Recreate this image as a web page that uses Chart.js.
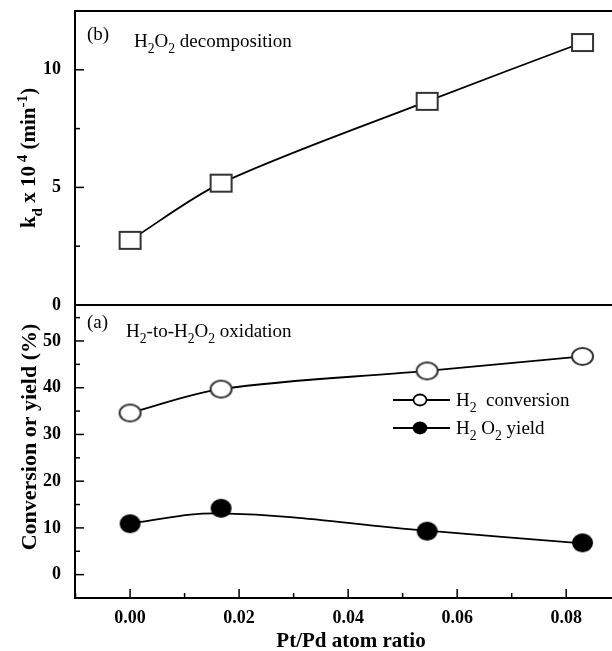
<!DOCTYPE html>
<html lang="en">
<head>
<meta charset="UTF-8" />
<title>Pt/Pd atom ratio</title>
<script src="https://cdn.jsdelivr.net/npm/chart.js"></script>
<style>
  body { margin: 0; background: #fff; }
  #wrap { position: relative; width: 612px; height: 651px; }
  canvas { position: absolute; left: 0; }
  #topChart { top: 0; }
  #bottomChart { top: 305px; }
</style>
</head>
<body>
<div id="wrap">
  <canvas id="topChart" width="612" height="320"></canvas>
  <canvas id="bottomChart" width="612" height="346"></canvas>
</div>
<script>
// values
const ratio = [0, 0.0167, 0.0545, 0.083];
const kd = [2.75, 5.18, 8.66, 11.16];
const h2Conversion = [34.6, 39.7, 43.6, 46.7];
const h2o2Yield = [10.9, 14.2, 9.3, 6.8];
const yieldCurve = [11.0, 13.1, 9.4, 6.7];   // the smoothed line under the yield points

// tick labels
const xTicks = [0, 0.02, 0.04, 0.06, 0.08];
const yTicksTop = [0, 5, 10];
const yTicksBottom = [0, 10, 20, 30, 40, 50];

const FONT = '"Liberation Serif", "Times New Roman", serif';
const pts = ys => ratio.map((x, i) => ({ x: x, y: ys[i] }));
const near = (a, b) => Math.abs(a - b) < 1e-9;

// major ticks plus one minor tick between each pair (and one beyond each end)
function withMinor(major, lo, hi) {
  const step = (major[1] - major[0]) / 2;
  const out = [];
  for (let v = major[0] - step; v <= major[major.length - 1] + step + 1e-9; v += step) {
    if (v >= lo - 1e-9 && v <= hi + 1e-9) out.push({ value: +v.toFixed(6) });
  }
  return out;
}

// open/filled markers drawn on small canvases (they are a bit wider than tall in the figure)
function marker(w, h, shape, fill) {
  const c = document.createElement('canvas');
  c.width = w + 4;
  c.height = h + 4;
  const g = c.getContext('2d');
  g.lineWidth = 2;
  g.strokeStyle = fill === '#000' ? '#000' : '#333';
  g.fillStyle = fill;
  g.beginPath();
  if (shape === 'rect') g.rect(2, 2, w, h);
  else g.ellipse(c.width / 2, c.height / 2, w / 2, h / 2, 0, 0, Math.PI * 2);
  g.fill();
  g.stroke();
  return c;
}

// text with sub/superscripts: parts = [[text, mode]], mode -1 sub, 1 sup
function richWidth(ctx, parts, size, weight) {
  let w = 0;
  parts.forEach(([t, m]) => {
    ctx.font = `${weight} ${m ? size * 0.72 : size}px ${FONT}`;
    w += ctx.measureText(t).width;
  });
  return w;
}
function richText(ctx, parts, x, y, size, weight) {
  let cx = x;
  ctx.textBaseline = 'alphabetic';
  ctx.textAlign = 'left';
  parts.forEach(([t, m]) => {
    ctx.font = `${weight} ${m ? size * 0.72 : size}px ${FONT}`;
    const dy = m === -1 ? size * 0.3 : m === 1 ? -size * 0.42 : 0;
    ctx.fillText(t, cx, y + dy);
    cx += ctx.measureText(t).width;
  });
}
function vertText(ctx, parts, cx, cy, size) {
  const w = richWidth(ctx, parts, size, 'bold');
  ctx.save();
  ctx.translate(cx, cy);
  ctx.rotate(-Math.PI / 2);
  richText(ctx, parts, -w / 2, size * 0.35, size, 'bold');
  ctx.restore();
}

// inward ticks
function drawTicks(chart, yMajor, xMajor) {
  const ctx = chart.ctx;
  const a = chart.chartArea;
  const ys = chart.scales.y, xs = chart.scales.x;
  ctx.save();
  ctx.strokeStyle = '#000';
  ctx.lineWidth = 1.5;
  ys.ticks.forEach(t => {
    const p = ys.getPixelForValue(t.value);
    const len = yMajor.some(v => near(v, t.value)) ? 9 : 5;
    ctx.beginPath();
    ctx.moveTo(a.left, p);
    ctx.lineTo(a.left + len, p);
    ctx.stroke();
  });
  if (xMajor) {
    xs.ticks.forEach(t => {
      const p = xs.getPixelForValue(t.value);
      const len = xMajor.some(v => near(v, t.value)) ? 9 : 5;
      ctx.beginPath();
      ctx.moveTo(p, a.bottom);
      ctx.lineTo(p, a.bottom - len);
      ctx.stroke();
    });
  }
  ctx.restore();
}

const topPlugin = {
  id: 'topPanel',
  beforeDatasetsDraw(chart) {
    drawTicks(chart, yTicksTop, null);
  },
  afterDraw(chart) {
    const ctx = chart.ctx;
    const a = chart.chartArea;
    ctx.save();
    ctx.strokeStyle = '#000';
    ctx.lineWidth = 2;
    ctx.beginPath();
    ctx.moveTo(a.right, a.top);
    ctx.lineTo(a.left, a.top);
    ctx.lineTo(a.left, a.bottom + 1);
    ctx.moveTo(a.left, a.bottom);
    ctx.lineTo(a.right, a.bottom);
    ctx.stroke();
    ctx.fillStyle = '#000';
    richText(ctx, [['(b)', 0]], 87, 40, 19, 'normal');
    richText(ctx, [['H', 0], ['2', -1], ['O', 0], ['2', -1], [' decomposition', 0]], 134, 47, 19, 'normal');
    vertText(ctx, [['k', 0], ['d', -1], [' x 10', 0], [' 4', 1], [' (min', 0], ['-1', 1], [')', 0]], 28, 158, 21);
    ctx.restore();
  }
};

const bottomPlugin = {
  id: 'bottomPanel',
  beforeDatasetsDraw(chart) {
    drawTicks(chart, yTicksBottom, xTicks);
  },
  afterDraw(chart) {
    const ctx = chart.ctx;
    const a = chart.chartArea;
    ctx.save();
    ctx.strokeStyle = '#000';
    ctx.lineWidth = 2;
    ctx.beginPath();
    ctx.moveTo(a.left, a.top);
    ctx.lineTo(a.left, a.bottom);
    ctx.lineTo(a.right, a.bottom);
    ctx.stroke();
    ctx.fillStyle = '#000';
    richText(ctx, [['(a)', 0]], 87, 23, 19, 'normal');
    richText(ctx, [['H', 0], ['2', -1], ['-to-H', 0], ['2', -1], ['O', 0], ['2', -1], [' oxidation', 0]], 126, 32, 19, 'normal');

    // legend
    const rows = [
      { y: 95, fill: '#fff', parts: [['H', 0], ['2', -1], ['  conversion', 0]] },
      { y: 123, fill: '#000', parts: [['H', 0], ['2', -1], [' O', 0], ['2', -1], [' yield', 0]] }
    ];
    rows.forEach(r => {
      ctx.lineWidth = 1.8;
      ctx.beginPath();
      ctx.moveTo(393, r.y);
      ctx.lineTo(450, r.y);
      ctx.stroke();
      ctx.beginPath();
      ctx.ellipse(420, r.y, 6.5, 5.5, 0, 0, Math.PI * 2);
      ctx.fillStyle = r.fill;
      ctx.fill();
      ctx.stroke();
      ctx.fillStyle = '#000';
      richText(ctx, r.parts, 456, r.y + 6, 19, 'normal');
    });

    vertText(ctx, [['Conversion or yield (%)', 0]], 28, 132, 22);
    ctx.font = `bold 21px ${FONT}`;
    ctx.textAlign = 'center';
    ctx.textBaseline = 'middle';
    ctx.fillText('Pt/Pd atom ratio', 351, 337);
    ctx.restore();
  }
};

const xRange = { min: -0.0101, max: 0.0884 };
const tickFont = { family: FONT, size: 18, weight: 'bold' };

new Chart(document.getElementById('topChart'), {
  type: 'line',
  data: {
    datasets: [{
      data: pts(kd),
      borderColor: '#000',
      borderWidth: 1.8,
      tension: 0.3,
      pointStyle: marker(21, 17, 'rect', '#fff'),
      pointRadius: 10
    }]
  },
  options: {
    responsive: false,
    animation: false,
    events: [],
    layout: { autoPadding: false, padding: { top: 11, bottom: 15, left: 0, right: 0 } },
    plugins: { legend: { display: false }, tooltip: { enabled: false } },
    scales: {
      x: { type: 'linear', display: false, min: xRange.min, max: xRange.max },
      y: {
        min: 0, max: 12.5,
        grid: { display: false },
        border: { display: false },
        afterFit: s => { s.width = 75; s.paddingTop = 0; s.paddingBottom = 0; },
        afterBuildTicks: s => { s.ticks = withMinor(yTicksTop, 0, 12.5); },
        ticks: {
          autoSkip: false,
          padding: 6,
          color: '#000',
          font: tickFont,
          callback: v => (yTicksTop.some(t => near(t, v)) ? String(v) : '')
        }
      }
    }
  },
  plugins: [topPlugin]
});

new Chart(document.getElementById('bottomChart'), {
  type: 'line',
  data: {
    datasets: [
      {
        data: pts(h2Conversion),
        borderColor: '#000',
        borderWidth: 1.8,
        tension: 0.35,
        pointStyle: marker(21, 17, 'circle', '#fff'),
        pointRadius: 10
      },
      {
        data: pts(yieldCurve),
        borderColor: '#000',
        borderWidth: 1.8,
        tension: 0.4,
        pointRadius: 0
      },
      {
        data: pts(h2o2Yield),
        showLine: false,
        pointStyle: marker(19, 17, 'circle', '#000'),
        pointRadius: 10
      }
    ]
  },
  options: {
    responsive: false,
    animation: false,
    events: [],
    layout: { autoPadding: false, padding: 0 },
    plugins: { legend: { display: false }, tooltip: { enabled: false } },
    scales: {
      x: {
        type: 'linear',
        min: xRange.min, max: xRange.max,
        grid: { display: false },
        border: { display: false },
        afterFit: s => { s.height = 53; s.paddingLeft = 0; s.paddingRight = 0; },
        afterBuildTicks: s => { s.ticks = withMinor(xTicks, xRange.min, xRange.max); },
        ticks: {
          padding: 2,
          color: '#000',
          font: tickFont,
          autoSkip: false,
          maxRotation: 0,
          callback: v => (xTicks.some(t => near(t, v)) ? v.toFixed(2) : '')
        }
      },
      y: {
        min: -5, max: 57.7,
        grid: { display: false },
        border: { display: false },
        afterFit: s => { s.width = 75; s.paddingTop = 0; s.paddingBottom = 0; },
        afterBuildTicks: s => { s.ticks = withMinor(yTicksBottom, -5, 57.7); },
        ticks: {
          autoSkip: false,
          padding: 6,
          color: '#000',
          font: tickFont,
          callback: v => (yTicksBottom.some(t => near(t, v)) ? String(v) : '')
        }
      }
    }
  },
  plugins: [bottomPlugin]
});
</script>
</body>
</html>
